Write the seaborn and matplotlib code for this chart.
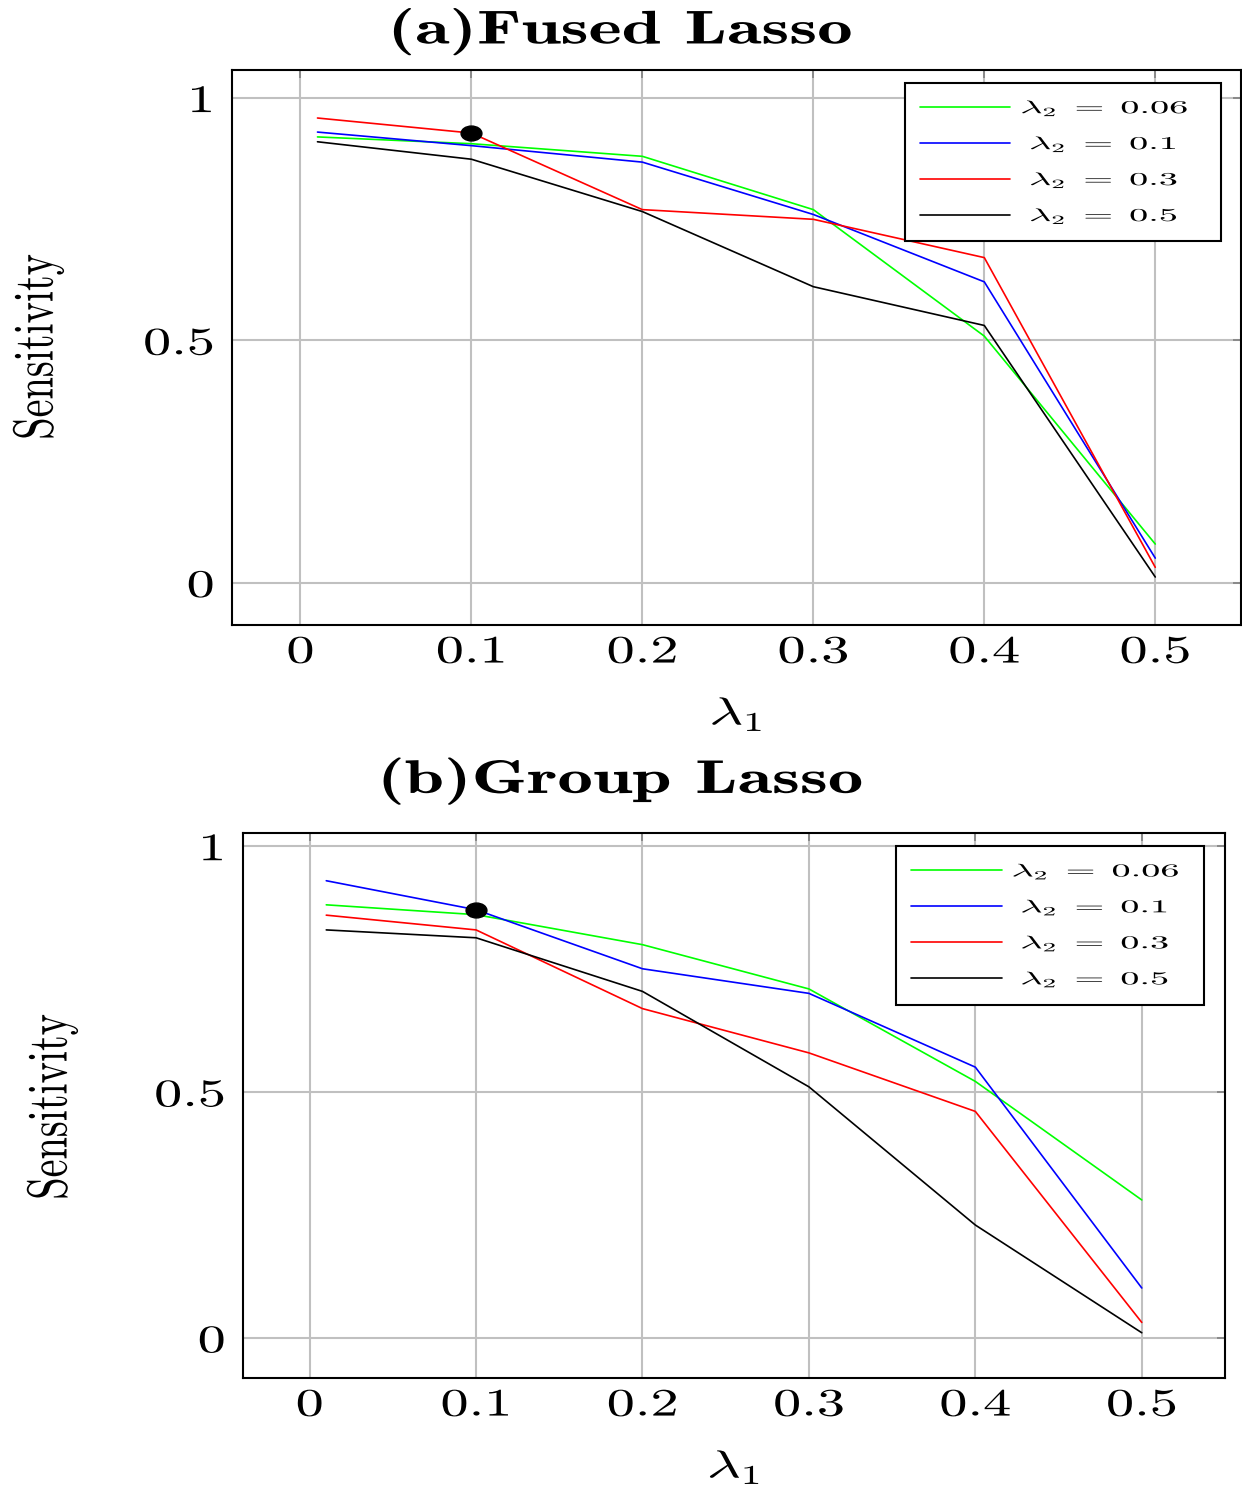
import matplotlib
matplotlib.use("Agg")
import matplotlib.pyplot as plt
import numpy as np
import pandas as pd
import seaborn as sns
from matplotlib.patheffects import AbstractPathEffect
from matplotlib.transforms import Affine2D
from matplotlib.path import Path

# lambda_1 grid
lambda1 = [0.01, 0.1, 0.2, 0.3, 0.4, 0.5]
lambda2_labels = [r"$\lambda_2\;=\;0.06$", r"$\;\;\lambda_2\;=\;0.1$",
                  r"$\;\;\lambda_2\;=\;0.3$", r"$\;\;\lambda_2\;=\;0.5$"]
line_colors = ["#00ff00", "#0000ff", "#ff0000", "#000000"]

# (a) Fused Lasso sensitivity
fused_006 = [0.920, 0.906, 0.880, 0.770, 0.509, 0.080]
fused_01 = [0.930, 0.902, 0.868, 0.760, 0.621, 0.051]
fused_03 = [0.959, 0.928, 0.770, 0.750, 0.671, 0.032]
fused_05 = [0.910, 0.874, 0.766, 0.611, 0.531, 0.012]
fused_best = (0.1, 0.928)

# (b) Group Lasso sensitivity
group_006 = [0.881, 0.861, 0.800, 0.710, 0.522, 0.281]
group_01 = [0.930, 0.871, 0.751, 0.701, 0.551, 0.102]
group_03 = [0.860, 0.830, 0.670, 0.580, 0.461, 0.032]
group_05 = [0.830, 0.814, 0.705, 0.511, 0.230, 0.011]
group_best = (0.1, 0.871)

x_ticks = [0, 0.1, 0.2, 0.3, 0.4, 0.5]
x_ticklabels = ["0", "0.1", "0.2", "0.3", "0.4", "0.5"]
y_ticks = [0, 0.5, 1]
y_ticklabels = ["0", "0.5", "1"]

sns.set_theme(style="white")
plt.rcParams["font.family"] = ["cmr10", "DejaVu Serif"]
plt.rcParams["mathtext.fontset"] = "cm"
plt.rcParams["axes.formatter.use_mathtext"] = True
plt.rcParams["text.color"] = "black"
plt.rcParams["axes.labelcolor"] = "black"


class Stretch(AbstractPathEffect):
    """Draw text glyphs scaled along the text's own x/y directions."""

    def __init__(self, sx=1.0, sy=1.0, anchor="center"):
        super().__init__()
        self._sx, self._sy, self._anchor = sx, sy, anchor

    def draw_path(self, renderer, gc, tpath, affine, rgbFace=None):
        if len(tpath.vertices) == 0:
            return
        ext = tpath.get_extents()
        if self._anchor == "left":
            cx = ext.x0
        elif self._anchor == "right":
            cx = ext.x1
        else:
            cx = 0.5 * (ext.x0 + ext.x1)
        cy = 0.5 * (ext.y0 + ext.y1)
        pre = (Affine2D().translate(-cx, -cy)
               .scale(self._sx, self._sy).translate(cx, cy))
        renderer.draw_path(gc, tpath, pre + affine, rgbFace)


# slightly flattened dot for the selected setting
dot = Path.unit_circle().transformed(Affine2D().scale(1.4, 1.0))


def long_form(series):
    rows = []
    for lab, vals in zip(lambda2_labels, series):
        for xv, yv in zip(lambda1, vals):
            rows.append({"lambda1": xv, "sens": yv, "lambda2": lab})
    return pd.DataFrame(rows)


def draw_panel(ax, series, best, ylim, leg_box, ylabel_xy):
    df = long_form(series)
    sns.lineplot(data=df, x="lambda1", y="sens", hue="lambda2",
                 hue_order=lambda2_labels, palette=line_colors,
                 linewidth=1.2, ax=ax, zorder=3)
    ax.plot([best[0]], [best[1]], marker=dot, color="black",
            markersize=15, linestyle="none", zorder=5)
    ax.set_xlim(-0.04, 0.55)
    ax.set_ylim(*ylim)
    ax.set_xticks(x_ticks)
    ax.set_xticklabels(x_ticklabels)
    ax.set_yticks(y_ticks)
    ax.set_yticklabels(y_ticklabels)
    ax.grid(True, color="#c0c0c0", linewidth=1.5, zorder=0)
    ax.set_axisbelow(True)
    for sp in ax.spines.values():
        sp.set_color("black")
        sp.set_linewidth(1.5)
    ax.tick_params(direction="in", top=True, right=True, length=6,
                   width=1.2, color="#808080", labelcolor="black",
                   labelsize=28)
    ax.tick_params(axis="x", pad=7)
    ax.tick_params(axis="y", pad=13)
    for t in ax.get_xticklabels():
        t.set_path_effects([Stretch(1.45, 1.0, "center")])
    for t in ax.get_yticklabels():
        t.set_path_effects([Stretch(1.45, 1.0, "right")])

    ax.set_xlabel(r"$\lambda_1$", fontsize=28, labelpad=18)
    ax.xaxis.label.set_path_effects([Stretch(1.5, 1.0, "center")])
    ax.set_ylabel("")
    fig = ax.figure
    fig.text(ylabel_xy[0], ylabel_xy[1], "Sensitivity", fontsize=29,
             rotation=90, ha="center", va="center",
             path_effects=[Stretch(1.0, 1.4, "center")])

    leg = ax.legend(loc="upper left", bbox_to_anchor=leg_box,
                    mode="expand", fontsize=13, frameon=True,
                    fancybox=False, edgecolor="black", framealpha=1,
                    handlelength=5.0, handletextpad=0.6,
                    borderpad=0.85, labelspacing=0.88, borderaxespad=0)
    leg.get_frame().set_linewidth(1.5)
    for h in leg.get_lines():
        h.set_linewidth(1.2)
    for t in leg.get_texts():
        t.set_path_effects([Stretch(2.12, 1.0, "left")])


fig = plt.figure(figsize=(12.42, 14.87), dpi=100)
ax1 = fig.add_axes([0.1868, 0.5797, 0.8122, 0.3732])
ax2 = fig.add_axes([0.1957, 0.0733, 0.7906, 0.3665])

draw_panel(ax1, [fused_006, fused_01, fused_03, fused_05], fused_best,
           (-0.087, 1.058), (0.667, 0.3, 0.313, 0.677),
           (38 / 1242, 1 - 347 / 1487))
draw_panel(ax2, [group_006, group_01, group_03, group_05], group_best,
           (-0.081, 1.027), (0.665, 0.3, 0.314, 0.676),
           (52 / 1242, 1 - 1107 / 1487))

fig.text(0.5, 0.979, "(a)Fused Lasso", family="cmb10", fontsize=34,
         ha="center", va="center",
         path_effects=[Stretch(1.5, 1.0, "center")])
fig.text(0.5, 0.475, "(b)Group Lasso", family="cmb10", fontsize=34,
         ha="center", va="center",
         path_effects=[Stretch(1.5, 1.0, "center")])

fig.savefig("out.png", dpi=100)
